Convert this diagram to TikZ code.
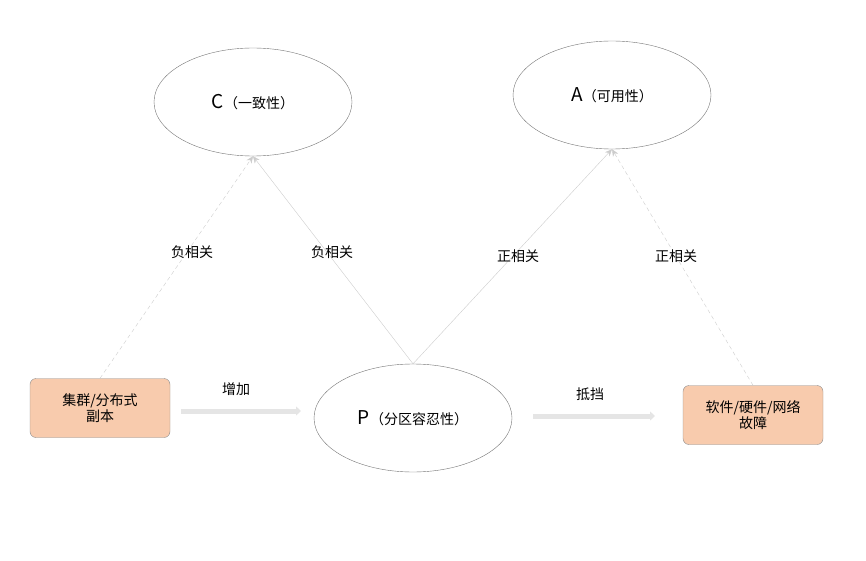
\documentclass[tikz,border=0pt]{standalone}
\usepackage{fontspec}
\setmainfont{Noto Sans CJK SC}
\usetikzlibrary{arrows.meta,shapes.geometric}
\definecolor{peachbox}{HTML}{F8CBAD}
\begin{document}
\begin{tikzpicture}[x=1pt,y=-1pt,
  ell/.style={draw=black!55,ellipse,minimum width=198pt,minimum height=108pt,inner sep=0pt,font=\fontsize{14}{16}\selectfont},
  box/.style={draw=black!45,fill=peachbox,rounded corners=6pt,minimum width=140pt,minimum height=59pt,align=center,font=\fontsize{14}{16}\selectfont,inner sep=0pt},
  lab/.style={font=\fontsize{14}{16}\selectfont},
  con/.style={draw=black!20,-{Stealth[length=7pt,width=6pt]}},
  dcon/.style={con,dash pattern=on 4pt off 3pt},
  big/.style={draw=black!10,line width=5pt,-{Triangle[length=5pt,width=9pt]}}]
\useasboundingbox (0,0) rectangle (866,561);
\node[ell] (C) at (253,102) {{\fontsize{19}{19}\selectfont C}（一致性）};
\node[ell] (A) at (612,95) {{\fontsize{19}{19}\selectfont A}（可用性）};
\node[ell] (P) at (413,418) {{\fontsize{19}{19}\selectfont P}（分区容忍性）};
\node[box] (B1) at (100,408) {集群/分布式\\副本};
\node[box] (B2) at (753,415) {软件/硬件/网络\\故障};
\draw[dcon] (B1.north) -- (C.south);
\draw[con] (P.north) -- (C.south);
\draw[con] (P.north) -- (A.south);
\draw[dcon] (B2.north) -- (A.south);
\coordinate (a1) at (181,411); \coordinate (a2) at (301,411);
\coordinate (b1) at (533,416); \coordinate (b2) at (655,416);
\draw[big] (a1) -- (a2);
\draw[big] (b1) -- (b2);
\node[lab] (l1) at (192,252) {负相关};
\node[lab] (l2) at (332,252) {负相关};
\node[lab] (l3) at (518,256) {正相关};
\node[lab] (l4) at (676,256) {正相关};
\node[lab] (l5) at (236,389) {增加};
\node[lab] (l6) at (590,394) {抵挡};
\end{tikzpicture}
\end{document}
